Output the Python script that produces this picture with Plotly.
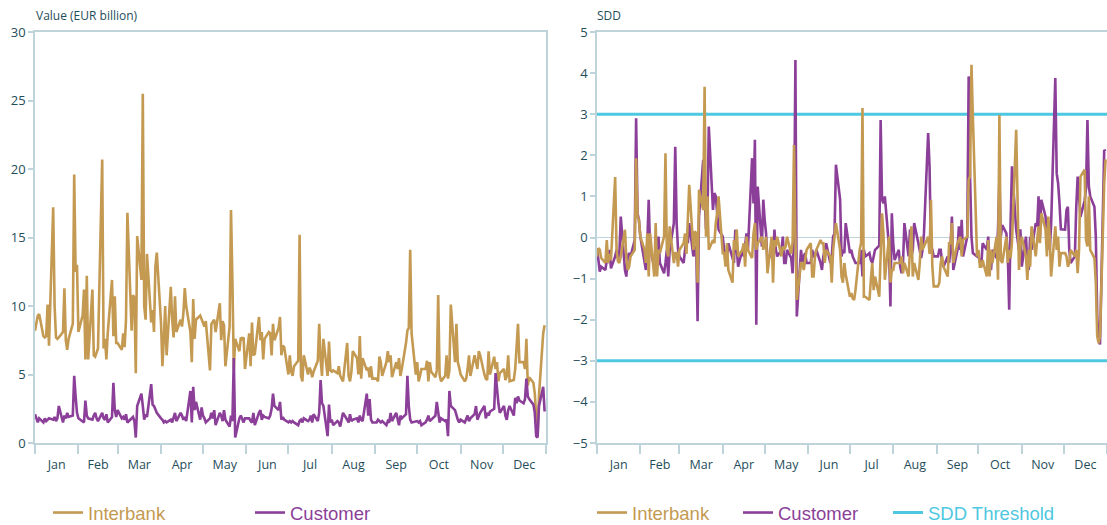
import pandas as pd
import plotly.graph_objects as go
from plotly.subplots import make_subplots

# ---------------- data (one inner list per month, business days) ----------------
INTERBANK_VALUE = [
    [8.2, 8.8, 9.3, 9.4, 7.8, 7.7, 7.8, 10.1, 7.1, 17.2, 10.0, 7.7, 7.6, 7.7, 8.1, 11.3, 7.5, 6.8, 7.6, 8.7, 19.6, 12.5, 13.0],
    [8.1, 9.3, 11.2, 6.1, 12.2, 6.1, 11.2, 6.4, 6.3, 6.7, 6.9, 20.7, 6.9, 7.6, 6.1, 8.1, 11.9, 7.8, 10.7, 7.3],
    [7.3, 6.8, 8.0, 7.0, 9.0, 16.8, 8.2, 10.8, 10.6, 5.1, 15.1, 11.9, 25.5, 10.0, 9.0, 13.8, 8.8, 9.7, 8.1, 12.9, 13.9],
    [8.8, 5.6, 7.6, 10.0, 6.4, 11.4, 9.0, 7.7, 10.7, 8.1, 9.0, 8.5, 9.5, 11.3, 10.0, 8.1, 5.9, 10.5, 7.6, 9.0, 9.3, 9.0],
    [8.7, 8.5, 8.9, 5.3, 8.7, 8.9, 9.0, 8.1, 10.2, 7.5, 8.9, 8.6, 5.6, 8.5, 17.0, 11.9, 5.4, 7.6, 6.7, 7.7, 7.6, 7.7, 5.4],
    [8.0, 5.6, 8.8, 6.4, 6.5, 9.2, 7.5, 8.1, 6.1, 7.6, 8.1, 8.0, 6.4, 8.7, 7.5, 8.4, 9.2, 6.4, 7.1, 7.0],
    [5.0, 6.4, 5.2, 4.9, 5.6, 6.0, 15.2, 4.9, 4.5, 6.4, 5.0, 5.5, 5.3, 4.8, 5.2, 6.0, 8.7, 6.1, 4.9, 7.6, 4.9, 7.4, 5.3],
    [5.2, 5.3, 5.1, 5.6, 4.9, 4.7, 4.5, 7.3, 4.9, 4.5, 5.2, 6.7, 6.2, 5.0, 7.8, 4.7, 6.2, 5.3, 5.5, 4.8, 5.6, 4.7],
    [4.7, 4.5, 6.3, 5.9, 4.9, 5.9, 6.7, 5.9, 6.4, 4.8, 5.9, 5.4, 6.2, 4.9, 5.4, 7.3, 8.2, 8.4, 14.1, 8.0, 5.0],
    [5.9, 4.5, 4.9, 5.4, 5.4, 6.0, 4.5, 5.9, 5.2, 4.8, 5.3, 10.8, 5.0, 4.5, 4.9, 6.4, 4.7, 5.3, 10.1, 5.9, 8.7, 5.9, 5.5],
    [5.0, 4.5, 4.7, 5.4, 6.4, 4.9, 6.4, 5.9, 5.4, 6.7, 6.4, 5.0, 4.7, 4.6, 6.7, 5.0, 6.3, 5.4, 5.9, 4.5, 5.1],
    [5.4, 4.6, 4.9, 6.4, 4.5, 4.6, 5.4, 7.6, 8.7, 5.9, 5.9, 5.4, 7.6, 4.2, 4.8, 4.4, 3.6, 2.0, 0.5, 3.5, 8.0, 8.6],
]

CUSTOMER_VALUE = [
    [2.1, 1.7, 1.5, 1.8, 1.5, 1.8, 1.6, 1.7, 1.8, 1.7, 1.9, 1.6, 1.8, 2.7, 1.5, 2.0, 1.8, 2.2, 1.9, 2.0, 4.9, 3.4, 2.2],
    [1.8, 1.6, 1.5, 3.1, 2.0, 1.8, 1.7, 2.0, 2.2, 1.8, 1.6, 2.2, 1.8, 1.7, 2.1, 1.5, 1.9, 4.4, 2.4, 1.9],
    [2.4, 1.8, 1.9, 1.7, 2.1, 1.5, 1.8, 1.9, 1.6, 0.4, 2.7, 3.6, 2.7, 1.7, 2.1, 1.9, 4.3, 2.8, 2.7, 2.4, 2.2],
    [1.8, 1.7, 1.5, 1.6, 1.5, 1.7, 1.5, 1.8, 2.2, 1.6, 2.2, 2.0, 1.7, 1.9, 1.6, 3.8, 1.5, 4.1, 2.4, 3.0, 1.7, 2.6],
    [2.0, 1.8, 1.5, 1.8, 2.2, 1.8, 2.4, 1.3, 2.2, 2.0, 1.6, 2.4, 1.7, 1.2, 2.0, 1.6, 6.2, 0.4, 1.8, 2.0, 1.7, 1.5, 1.8],
    [1.8, 1.6, 1.5, 2.2, 1.3, 2.2, 2.4, 1.7, 2.0, 1.9, 1.8, 2.0, 2.5, 3.6, 2.7, 2.4, 3.0, 1.7, 1.9, 1.7],
    [1.5, 1.6, 1.5, 1.6, 1.5, 1.3, 1.6, 1.7, 1.5, 1.8, 1.6, 1.7, 2.0, 1.5, 2.1, 1.6, 2.2, 4.6, 2.9, 2.7, 0.5, 2.8, 1.5],
    [1.7, 1.3, 1.6, 1.5, 1.2, 1.8, 2.2, 1.7, 1.5, 2.1, 1.6, 1.7, 1.8, 1.5, 2.0, 1.7, 1.6, 3.6, 2.0, 3.2, 1.7, 1.5],
    [1.5, 1.7, 1.6, 1.5, 1.6, 1.3, 1.6, 1.5, 2.2, 1.6, 2.2, 1.8, 1.3, 2.0, 1.8, 2.1, 4.9, 2.7, 1.7, 1.5, 1.6],
    [1.6, 1.5, 1.6, 1.3, 1.5, 1.7, 2.0, 1.6, 1.7, 2.0, 3.0, 2.0, 1.5, 1.8, 1.6, 1.7, 0.5, 3.8, 2.7, 2.4, 2.0, 1.7, 1.5],
    [1.7, 1.5, 1.7, 2.0, 1.6, 1.8, 2.1, 2.7, 1.7, 2.0, 2.2, 2.7, 1.8, 2.2, 2.0, 2.3, 2.5, 5.1, 3.6, 2.9, 2.2],
    [2.7, 2.0, 1.7, 2.4, 2.7, 2.0, 3.3, 2.9, 3.4, 3.1, 2.9, 3.2, 4.7, 3.4, 3.2, 2.8, 2.2, 0.5, 0.4, 2.7, 4.1, 2.3],
]

INTERBANK_SDD = [
    [-0.46, -0.26, -0.30, -0.50, -0.62, -0.06, -0.62, -0.40, -0.55, 1.47, -0.30, -0.58, -0.62, -0.46, 0.19, -0.50, -0.79, -0.71, -0.46, -0.30, 1.93, 0.50, 0.43],
    [0.02, -0.30, -0.62, 0.10, -0.95, 0.10, -0.95, 0.35, -0.95, -0.30, -0.38, 0.02, 2.05, -0.30, -0.46, 0.27, -0.62, -0.38, -0.38, -0.71],
    [-0.30, -0.14, 0.10, -0.40, 0.51, 1.28, -0.30, 0.15, 0.10, -1.10, 1.16, 0.67, 3.67, 0.02, 1.00, -0.30, -0.06, -0.14, 0.35, 0.60, 1.00],
    [-0.38, -0.38, -0.71, -0.14, -0.79, -1.10, -0.06, -0.30, 0.19, -0.46, -0.30, -0.14, -0.71, 0.02, -0.30, -0.50, 0.10, 0.35, -0.30, -0.14, 0.02, -0.30],
    [-0.14, 0.02, -0.87, 0.02, -1.10, -0.06, -0.22, 0.02, -0.46, -0.22, -0.30, -0.22, 0.02, -0.40, -0.10, 2.25, 0.02, -1.52, -0.62, -0.62, -0.79, -0.46, -0.30],
    [-0.14, -0.95, -0.95, -0.46, -0.30, -0.06, -0.14, -0.14, -0.62, -0.30, -0.46, -1.10, -0.30, 0.02, 0.35, -0.30, -0.95, -1.10, -0.62, -0.90],
    [-1.44, -1.35, -1.48, -1.52, -1.28, -0.30, -0.14, 3.15, -1.44, -1.44, -1.52, -1.03, -0.62, -1.28, -0.95, -1.44, -0.30, 0.59, 0.10, -1.03, 0.02, -1.10, -0.79],
    [-0.79, -0.62, -0.62, -0.62, -0.46, -0.87, -0.62, -0.95, -0.30, 0.27, -0.95, -0.62, -1.03, -0.62, 0.02, -0.30, -0.22, 0.02, -0.40, 0.92, -0.71, -1.19],
    [-1.19, -1.10, -0.62, -0.46, -0.71, -0.95, -0.14, -0.14, 0.35, -0.62, -0.14, -0.06, 0.02, -0.46, -0.06, 0.02, 1.40, 1.50, 4.20, 2.94, -0.46],
    [-0.30, -0.71, -0.71, -0.55, -0.95, -0.06, -0.95, -0.30, -0.62, 0.02, -1.03, 2.98, -0.55, -0.62, 0.02, -0.62, -0.30, -0.50, -0.10, 2.62, 0.92, -0.79, -0.22],
    [0.02, -0.46, -1.03, -0.30, -0.71, 0.27, -0.46, -0.06, 0.27, -0.14, 0.59, 0.19, -0.46, 0.51, 0.02, -0.95, 0.27, -0.30, 0.02, -0.71, -0.38],
    [-0.38, -0.46, -0.71, -0.62, -0.30, -0.46, -0.30, -0.87, -0.30, 1.48, 1.65, -0.06, -0.22, 1.00, -0.30, -0.50, -1.10, -2.40, -2.57, -2.40, 1.32, 1.90],
]

CUSTOMER_SDD = [
    [-0.26, -0.62, -0.83, -0.71, -0.79, -0.55, -0.62, -0.30, -0.75, -0.46, -0.30, -0.50, -0.40, 0.51, -0.79, -0.95, -0.46, -0.38, -0.46, -0.06, 2.90, 0.59, 0.43],
    [0.02, -0.62, -0.79, -0.14, 0.92, -0.30, -0.71, -0.46, -0.22, 0.02, -0.62, -0.87, -0.62, -0.30, -0.95, -0.30, 0.35, 2.21, 0.35, -0.30],
    [-0.46, -0.62, -0.30, -0.06, -0.14, 0.35, -0.46, -0.30, -0.20, -2.04, 0.50, 1.89, 0.75, 0.20, 0.40, 2.70, 0.67, 1.08, 1.00, 0.51, 0.19],
    [0.02, -0.30, -0.38, -0.46, -0.14, -0.55, -0.62, 0.19, -0.30, -0.71, -0.30, -0.46, -0.20, 0.10, -0.30, 1.93, 0.83, 2.38, -2.12, 1.24, -0.22, 0.92],
    [0.43, 0.10, -0.62, -0.30, -0.46, 0.19, -0.30, -0.46, -0.30, 0.02, -0.62, -0.62, -0.30, -0.50, -0.87, 0.10, 4.32, -1.92, -0.30, -0.62, -0.46, -0.38, -0.62],
    [-0.62, -0.30, -0.46, -0.46, -0.30, -0.62, -0.79, -0.46, -0.30, -0.14, -0.62, -0.46, 0.02, 0.10, 1.77, 0.92, -0.46, -0.30, -0.38, 0.35],
    [-0.38, -0.30, -0.46, -0.55, -0.62, -0.62, -0.30, -0.95, -0.30, -0.46, -0.38, -0.55, -0.62, -0.46, -0.30, -0.20, 2.86, 0.92, 0.83, 1.00, -0.22, -1.68, 0.59],
    [-0.14, -0.55, -0.30, -0.71, -0.87, -0.62, 0.35, -0.46, 0.19, -0.46, -0.30, 0.35, -0.14, -0.30, -0.50, -0.30, 0.10, 2.54, 1.73, -0.30, -0.30, -0.46],
    [-0.46, -0.30, -0.30, -0.62, -0.71, -0.46, -0.62, -0.30, 0.51, -0.79, -0.30, 0.27, -0.30, 0.43, -0.46, 0.02, 3.92, 1.48, 0.02, -0.38, -0.46],
    [-0.46, -0.62, -0.71, -0.14, -0.30, 0.02, -0.62, -0.79, -0.30, -0.50, 0.20, 1.40, 0.02, 0.30, 0.10, -0.40, -1.76, 0.35, 1.73, 0.19, -0.06, -0.30, 0.20],
    [-0.71, 0.02, -0.62, -0.79, 0.02, -0.30, 0.35, 0.27, 1.00, 0.02, 0.92, 0.51, 0.02, 0.27, -0.30, 0.30, 3.88, 1.56, 1.32, 0.83, 0.20],
    [0.19, 0.67, 0.75, -0.30, -0.62, -0.46, 0.75, 1.48, 1.00, 0.50, 0.90, 1.20, 2.86, 1.24, 1.00, 0.75, 0.02, -1.92, -2.50, -2.60, 2.13, 2.10],
]

SDD_THRESHOLD = [3, -3]
YEAR = 2019

# ---------------- build dates (business days of each month) ----------------
def month_dates(values_by_month):
    xs = []
    for m, vals in enumerate(values_by_month, start=1):
        start = pd.Timestamp(YEAR, m, 1)
        end = start + pd.offsets.MonthEnd(0)
        days = list(pd.bdate_range(start, end))
        xs.extend(days[:len(vals)])
    return xs

def flat(v):
    return [x for month in v for x in month]

C_IB = "#C49A52"
C_CU = "#8B3F98"
C_TH = "#4EC8E0"
AX = "#BED3DA"
TXT = "#1F4E5A"
W, H = 1107, 525

fig = make_subplots(rows=1, cols=2)

def nm(text, color):
    return f"<span style='color:{color}'>{text}</span>"

fig.add_trace(go.Scatter(x=month_dates(INTERBANK_VALUE), y=flat(INTERBANK_VALUE), mode="lines",
                         line=dict(color=C_IB, width=2.6), name=nm("Interbank", C_IB),
                         legend="legend"), 1, 1)
fig.add_trace(go.Scatter(x=month_dates(CUSTOMER_VALUE), y=flat(CUSTOMER_VALUE), mode="lines",
                         line=dict(color=C_CU, width=2.6), name=nm("Customer", C_CU),
                         legend="legend2"), 1, 1)

th_x = [pd.Timestamp(YEAR, 1, 1), pd.Timestamp(YEAR + 1, 1, 1)]
fig.add_trace(go.Scatter(x=th_x + [None] + th_x,
                         y=[SDD_THRESHOLD[0]] * 2 + [None] + [SDD_THRESHOLD[1]] * 2,
                         mode="lines", line=dict(color=C_TH, width=3),
                         name=nm("SDD Threshold", C_TH), legend="legend5"), 1, 2)
fig.add_trace(go.Scatter(x=month_dates(CUSTOMER_SDD), y=flat(CUSTOMER_SDD), mode="lines",
                         line=dict(color=C_CU, width=2.6), name=nm("Customer", C_CU),
                         legend="legend4"), 1, 2)
fig.add_trace(go.Scatter(x=month_dates(INTERBANK_SDD), y=flat(INTERBANK_SDD), mode="lines",
                         line=dict(color=C_IB, width=2.6), name=nm("Interbank", C_IB),
                         legend="legend3"), 1, 2)

xcommon = dict(
    type="date", range=[pd.Timestamp(YEAR, 1, 1), pd.Timestamp(YEAR + 1, 1, 1)],
    dtick="M1", tick0=f"{YEAR}-01-01", ticklabelmode="period", tickformat="%b",
    ticks="outside", ticklen=9, tickwidth=1.5, tickcolor=AX,
    showline=True, linecolor=AX, linewidth=1.5, mirror=True,
    showgrid=False, zeroline=False, automargin=False,
    tickfont=dict(family="Open Sans", size=12.5, color=TXT),
)
ycommon = dict(
    ticks="outside", ticklen=5, tickwidth=1.5, tickcolor=AX,
    showline=True, linecolor=AX, linewidth=1.5, mirror=True,
    showgrid=False, automargin=False,
    tickfont=dict(family="Open Sans", size=13, color=TXT),
)

ydom = [(H - 443) / H, (H - 32) / H]

def leg(text_x):
    return dict(orientation="h", x=(text_x - 40) / W, xanchor="left", y=12 / H, yanchor="middle",
                font=dict(family="Liberation Sans", size=18.5), bgcolor="rgba(0,0,0,0)")

fig.update_layout(
    width=W, height=H,
    margin=dict(l=0, r=0, t=0, b=0, autoexpand=False),
    paper_bgcolor="white", plot_bgcolor="white",
    xaxis=dict(**xcommon, domain=[35 / W, 546 / W]),
    xaxis2=dict(**xcommon, domain=[597 / W, 1.0]),
    yaxis=dict(**ycommon, range=[0, 30], dtick=5, zeroline=False, domain=ydom),
    yaxis2=dict(**ycommon, range=[-5, 5], dtick=1, zeroline=True,
                zerolinecolor=AX, zerolinewidth=1.2, domain=ydom),
    legend=leg(88),
    legend2=leg(290),
    legend3=leg(632),
    legend4=leg(778),
    legend5=leg(928),
    annotations=[
        dict(text="Value (EUR billion)", x=34 / W, y=1 - 15 / H, xref="paper", yref="paper",
             xanchor="left", yanchor="middle", showarrow=False,
             font=dict(family="Open Sans", size=12, color=TXT)),
        dict(text="SDD", x=595 / W, y=1 - 15 / H, xref="paper", yref="paper",
             xanchor="left", yanchor="middle", showarrow=False,
             font=dict(family="Open Sans", size=12, color=TXT)),
    ],
    showlegend=True,
)

fig.write_html("out.html", config={"displayModeBar": False},
               post_script="document.body.style.margin='0';document.body.style.overflow='hidden';")
